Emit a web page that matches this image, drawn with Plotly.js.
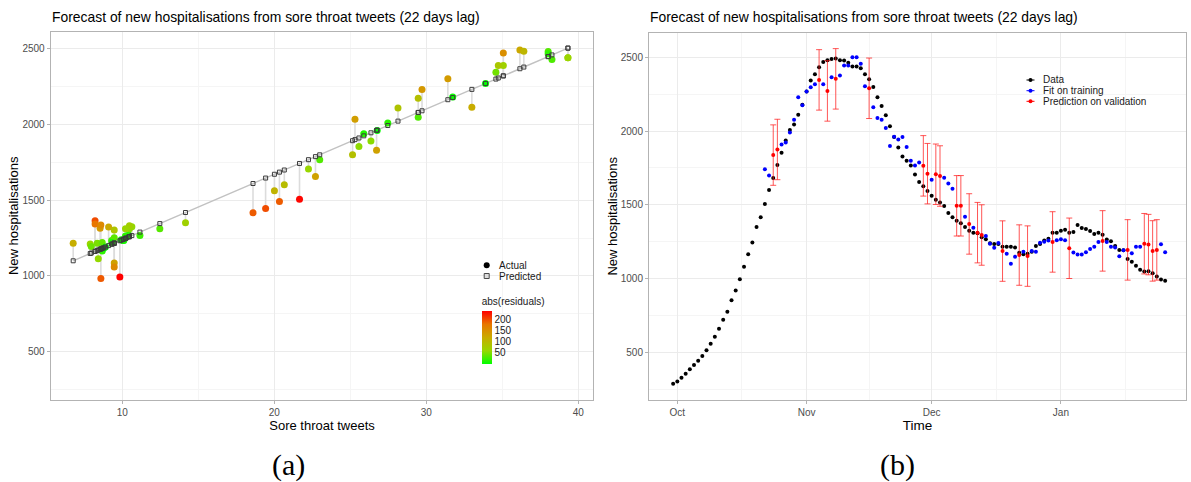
<!DOCTYPE html>
<html>
<head>
<meta charset="utf-8">
<script src="https://cdn.plot.ly/plotly-3.0.1.min.js"></script>
<style>
  html, body { margin: 0; padding: 0; background: #ffffff; }
  #chart { width: 1191px; height: 482px; }
</style>
</head>
<body>
<div id="chart"></div>
<script>
// Daily new hospitalisations, one value per day starting on firstDay
const firstDay = '2020-09-30';
const hospitalisations = [
  286,
  302, 327, 354, 384, 414, 443, 475, 514, 557, 605, 659, 720, 775, 852, 918, 995,
  1080, 1164, 1245, 1350, 1416, 1505, 1601, 1682, 1769, 1853, 1936, 2007, 2045, 2111, 2179,
  2268, 2342, 2386, 2433, 2469, 2481, 2488, 2492, 2481, 2479, 2463, 2438, 2438, 2426, 2386,
  2352, 2299, 2229, 2170, 2107, 2032, 1959, 1889, 1828, 1798, 1766, 1705, 1655, 1625, 1593,
  1561, 1534, 1516, 1491, 1445, 1416, 1391, 1375, 1350, 1323, 1311, 1307, 1280, 1266, 1239,
  1234, 1234, 1216, 1216, 1216, 1211, 1175, 1164, 1168, 1182, 1220, 1234, 1257, 1270, 1311, 1311,
  1324, 1331, 1311, 1315, 1363, 1342, 1336, 1322, 1302, 1311, 1297, 1264, 1252, 1221, 1194,
  1191, 1133, 1113, 1086, 1059, 1047, 1050, 1036, 1014, 993, 984
];

// Training days: fitted hospitalisations and sore throat tweets (22 days earlier)
const trainingDays = [
  '2020-10-22', '2020-10-23', '2020-10-26', '2020-10-27', '2020-10-28', '2020-10-29', '2020-10-30', '2020-10-31',
  '2020-11-01', '2020-11-02', '2020-11-03', '2020-11-05', '2020-11-07', '2020-11-09', '2020-11-10', '2020-11-11',
  '2020-11-12', '2020-11-13', '2020-11-14', '2020-11-15', '2020-11-17', '2020-11-18', '2020-11-19', '2020-11-20',
  '2020-11-21', '2020-11-22', '2020-11-23', '2020-11-24', '2020-11-25', '2020-11-26', '2020-11-27', '2020-11-28',
  '2020-12-01', '2020-12-04', '2020-12-05', '2020-12-06', '2020-12-09', '2020-12-11', '2020-12-14', '2020-12-15',
  '2020-12-16', '2020-12-17', '2020-12-19', '2020-12-20', '2020-12-21', '2020-12-23', '2020-12-25', '2020-12-26',
  '2020-12-27', '2020-12-28', '2020-12-29', '2020-12-31', '2021-01-01', '2021-01-02', '2021-01-04', '2021-01-05',
  '2021-01-06', '2021-01-07', '2021-01-08', '2021-01-09', '2021-01-10', '2021-01-12', '2021-01-13', '2021-01-14',
  '2021-01-15', '2021-01-16', '2021-01-18', '2021-01-19', '2021-01-20', '2021-01-25', '2021-01-26'
];
const trainingFit = [
  1741, 1698, 1909, 1923, 1991, 2077, 2229, 2175,
  2268, 2297, 2318, 2318, 2365, 2376, 2445, 2445,
  2501, 2501, 2456, 2304, 2161, 2088, 2077, 2020,
  1898, 1961, 1943, 1959, 1891, 1798, 1766, 1786,
  1670, 1684, 1645, 1609, 1418, 1345, 1289, 1236,
  1209, 1241, 1168, 1100, 1148, 1182, 1186, 1182,
  1243, 1250, 1257, 1259, 1266, 1259, 1176, 1162,
  1162, 1178, 1200, 1216, 1248, 1248, 1216, 1210,
  1151, 1191, 1171, 1216, 1216, 1232, 1178
];
const trainingTweets = [
  21.66, 20.66, 25.57, 25.89, 27.47, 29.47, 33.00, 31.74,
  33.90, 34.58, 35.07, 35.07, 36.16, 36.42, 38.02, 38.02,
  39.32, 39.32, 38.27, 34.74, 31.42, 29.72, 29.47, 28.14,
  25.31, 26.77, 26.36, 26.73, 25.15, 22.99, 22.25, 22.71,
  20.01, 20.34, 19.43, 18.60, 14.16, 12.47, 11.16, 9.93,
  9.30, 10.05, 8.35, 6.77, 7.89, 8.68, 8.77, 8.68,
  10.10, 10.26, 10.42, 10.47, 10.63, 10.47, 8.54, 8.21,
  8.21, 8.59, 9.10, 9.47, 10.21, 10.21, 9.47, 9.33,
  7.96, 8.89, 8.42, 9.47, 9.47, 9.84, 8.59
];

// Validation days: predicted hospitalisations with their error half-width
const validationDays = [
  '2020-10-24', '2020-10-25', '2020-11-04', '2020-11-06', '2020-11-08', '2020-11-16', '2020-11-29',
  '2020-11-30', '2020-12-02', '2020-12-03', '2020-12-07', '2020-12-08', '2020-12-10', '2020-12-12',
  '2020-12-13', '2020-12-18', '2020-12-22', '2020-12-24', '2020-12-30', '2021-01-03', '2021-01-11',
  '2021-01-17', '2021-01-21', '2021-01-22', '2021-01-23', '2021-01-24'
];
const validationPred = [
  1837, 1875, 2347, 2272, 2354, 2290, 1764,
  1711, 1707, 1695, 1493, 1493, 1370, 1311,
  1295, 1186, 1159, 1152, 1248, 1205, 1255,
  1194, 1236, 1230, 1187, 1194
];
const validationErr = 205;

// Axis ticks and labels
const tweetTicks = [10, 20, 30, 40];
const tweetMinor = [15, 25, 35];
const countTicks = [500, 1000, 1500, 2000, 2500];
const countMinor = [250, 750, 1250, 1750, 2250];
const monthTicks = ['2020-10-01', '2020-11-01', '2020-12-01', '2021-01-01'];
const monthLabels = ['Oct', 'Nov', 'Dec', 'Jan'];
const monthMinor = ['2020-10-16 12:00', '2020-11-16', '2020-12-16 12:00', '2021-01-16 12:00'];
const residualTicks = [50, 100, 150, 200];

const titleText = 'Forecast of new hospitalisations from sore throat tweets (22 days lag)';

// ---- derived series ----
function addDays(iso, n) {
  const d = new Date(iso + 'T00:00:00Z');
  d.setUTCDate(d.getUTCDate() + n);
  return d.toISOString().slice(0, 10);
}
const days = hospitalisations.map((_, i) => addDays(firstDay, i));
const countByDay = {};
days.forEach((d, i) => { countByDay[d] = hospitalisations[i]; });
const trainingActual = trainingDays.map(d => countByDay[d]);
const absResiduals = trainingActual.map((a, i) => Math.abs(a - trainingFit[i]));

const segX = [], segY = [];
trainingTweets.forEach((x, i) => {
  segX.push(x, x, null);
  segY.push(trainingActual[i], trainingFit[i], null);
});
const order = trainingTweets.map((_, i) => i).sort((a, b) => trainingTweets[a] - trainingTweets[b]);
const lineX = order.map(i => trainingTweets[i]);
const lineY = order.map(i => trainingFit[i]);

// ---- geometry helpers (pixels -> paper) ----
const W = 1191, H = 482;
const px = x => x / W;
const py = y => 1 - y / H;
const FONT = 'Liberation Sans, Arial, sans-serif';

const greenRed = [
  [0, '#00ff00'],
  [0.25, 'rgb(152,215,0)'],
  [0.5, 'rgb(201,171,0)'],
  [0.75, 'rgb(232,118,0)'],
  [1, '#ff0000']
];

function axis(extra) {
  return Object.assign({
    showline: true, mirror: true, linecolor: '#b3b3b3', linewidth: 1,
    ticks: 'outside', ticklen: 3, tickcolor: '#b3b3b3', tickwidth: 1,
    tickfont: { family: FONT, size: 10, color: '#4d4d4d' },
    showgrid: true, gridcolor: '#ebebeb', gridwidth: 1,
    zeroline: false, fixedrange: true, automargin: false
  }, extra);
}
function minor(vals) {
  return { tickvals: vals, showgrid: true, gridcolor: '#f5f5f5', gridwidth: 1, ticks: '' };
}

const traces = [
  // panel (a): residual segments, fitted line, actual points, predicted points
  { x: segX, y: segY, xaxis: 'x', yaxis: 'y', mode: 'lines', type: 'scatter',
    line: { color: '#dcdcdc', width: 1.6 }, hoverinfo: 'skip', showlegend: false },
  { x: lineX, y: lineY, xaxis: 'x', yaxis: 'y', mode: 'lines', type: 'scatter',
    line: { color: '#c2c2c2', width: 1.4 }, hoverinfo: 'skip', showlegend: false },
  { x: trainingTweets, y: trainingActual, xaxis: 'x', yaxis: 'y', mode: 'markers', type: 'scatter',
    name: 'Actual', showlegend: false,
    marker: {
      size: 7, color: absResiduals, colorscale: greenRed, showscale: true,
      colorbar: {
        x: px(481.7), xanchor: 'left', y: py(363.6), yanchor: 'bottom',
        lenmode: 'pixels', len: 69, thickness: 10, thicknessmode: 'pixels',
        xpad: 0, ypad: 0, outlinewidth: 0, ticks: '',
        tickvals: residualTicks, tickfont: { family: FONT, size: 10, color: '#1a1a1a' },
        title: { text: 'abs(residuals)', side: 'top', font: { family: FONT, size: 10, color: '#1a1a1a' } }
      }
    } },
  { x: trainingTweets, y: trainingFit, xaxis: 'x', yaxis: 'y', mode: 'markers', type: 'scatter',
    name: 'Predicted', showlegend: false,
    marker: { symbol: 'square-open', size: 4, color: '#3c3c3c', line: { width: 1 } } },

  // panel (b): data, fit on training, prediction on validation
  { x: days, y: hospitalisations, xaxis: 'x2', yaxis: 'y2', mode: 'markers', type: 'scatter',
    name: 'Data', showlegend: false, marker: { size: 4, color: '#000000' } },
  { x: trainingDays, y: trainingFit, xaxis: 'x2', yaxis: 'y2', mode: 'markers', type: 'scatter',
    name: 'Fit on training', showlegend: false, marker: { size: 4, color: '#0000ff' } },
  { x: validationDays, y: validationPred, xaxis: 'x2', yaxis: 'y2', mode: 'markers', type: 'scatter',
    name: 'Prediction on validation', showlegend: false, marker: { size: 4, color: '#ff0000' },
    error_y: { type: 'constant', value: validationErr, color: 'rgba(255,30,30,0.75)', thickness: 1, width: 3 } }
];

// hand-placed legend keys
const shapes = [];
const annotations = [];
function keyText(x, y, text) {
  annotations.push({ xref: 'paper', yref: 'paper', x: px(x), y: py(y), xanchor: 'left', yanchor: 'middle',
    text: text, showarrow: false, font: { family: FONT, size: 10, color: '#1a1a1a' } });
}
function dot(x, y, r, color) {
  shapes.push({ type: 'circle', xref: 'paper', yref: 'paper', xsizemode: 'pixel', ysizemode: 'pixel',
    xanchor: px(x), yanchor: py(y), x0: -r, x1: r, y0: -r, y1: r,
    fillcolor: color, line: { width: 0 } });
}
// panel (a) legend
dot(486.7, 265.3, 3, '#000000');
keyText(496.7, 265.3, 'Actual');
shapes.push({ type: 'rect', xref: 'paper', yref: 'paper', xsizemode: 'pixel', ysizemode: 'pixel',
  xanchor: px(486.7), yanchor: py(276), x0: -2.5, x1: 2.5, y0: -2.5, y1: 2.5,
  fillcolor: '#dddddd', line: { color: '#4a4a4a', width: 1 } });
keyText(496.7, 276, 'Predicted');
// panel (b) legend
const keys = [['Data', '#000000', 80], ['Fit on training', '#0000ff', 90.7], ['Prediction on validation', '#ff0000', 101.3]];
keys.forEach(([label, color, y]) => {
  shapes.push({ type: 'line', xref: 'paper', yref: 'paper', x0: px(1026.5), x1: px(1034.5), y0: py(y), y1: py(y),
    line: { color: color, width: 1 } });
  dot(1030.5, y, 2, color);
  keyText(1041, y, label);
});

// panel titles and sub-figure labels
annotations.push(
  { xref: 'paper', yref: 'paper', x: px(50), y: py(17), xanchor: 'left', yanchor: 'middle', showarrow: false,
    text: titleText, font: { family: FONT, size: 13.9, color: '#000000' } },
  { xref: 'paper', yref: 'paper', x: px(648), y: py(17), xanchor: 'left', yanchor: 'middle', showarrow: false,
    text: titleText, font: { family: FONT, size: 13.9, color: '#000000' } },
  { xref: 'paper', yref: 'paper', x: px(288), y: py(465), xanchor: 'center', yanchor: 'middle', showarrow: false,
    text: '(a)', font: { family: 'Liberation Serif, DejaVu Serif, serif', size: 30, color: '#000000' } },
  { xref: 'paper', yref: 'paper', x: px(897), y: py(465), xanchor: 'center', yanchor: 'middle', showarrow: false,
    text: '(b)', font: { family: 'Liberation Serif, DejaVu Serif, serif', size: 30, color: '#000000' } }
);

const layout = {
  width: W, height: H,
  margin: { l: 0, r: 0, t: 0, b: 0, pad: 0 },
  paper_bgcolor: '#ffffff', plot_bgcolor: '#ffffff',
  font: { family: FONT, color: '#000000' },
  showlegend: false,
  xaxis: axis({
    domain: [px(50.7), px(593.3)], anchor: 'y', range: [5.29, 40.99],
    tickmode: 'array', tickvals: tweetTicks, minor: minor(tweetMinor),
    title: { text: 'Sore throat tweets', font: { family: FONT, size: 13, color: '#000000' }, standoff: 0 }
  }),
  yaxis: axis({
    domain: [py(400), py(31.7)], anchor: 'x', range: [183, 2609],
    tickmode: 'array', tickvals: countTicks, minor: minor(countMinor),
    title: { text: 'New hospitalisations', font: { family: FONT, size: 13, color: '#000000' }, standoff: 0 }
  }),
  xaxis2: axis({
    domain: [px(649), px(1186)], anchor: 'y2', type: 'date',
    range: ['2020-09-24 05:00', '2021-01-31 00:00'],
    tickmode: 'array', tickvals: monthTicks, ticktext: monthLabels, minor: minor(monthMinor),
    title: { text: 'Time', font: { family: FONT, size: 13.5, color: '#000000' }, standoff: 0 }
  }),
  yaxis2: axis({
    domain: [py(400), py(32.7)], anchor: 'x2', range: [176, 2667],
    tickmode: 'array', tickvals: countTicks, minor: minor(countMinor),
    title: { text: 'New hospitalisations', font: { family: FONT, size: 13, color: '#000000' }, standoff: 0 }
  }),
  shapes: shapes,
  annotations: annotations
};

Plotly.newPlot('chart', traces, layout, { displayModeBar: false, staticPlot: true });
</script>
</body>
</html>
